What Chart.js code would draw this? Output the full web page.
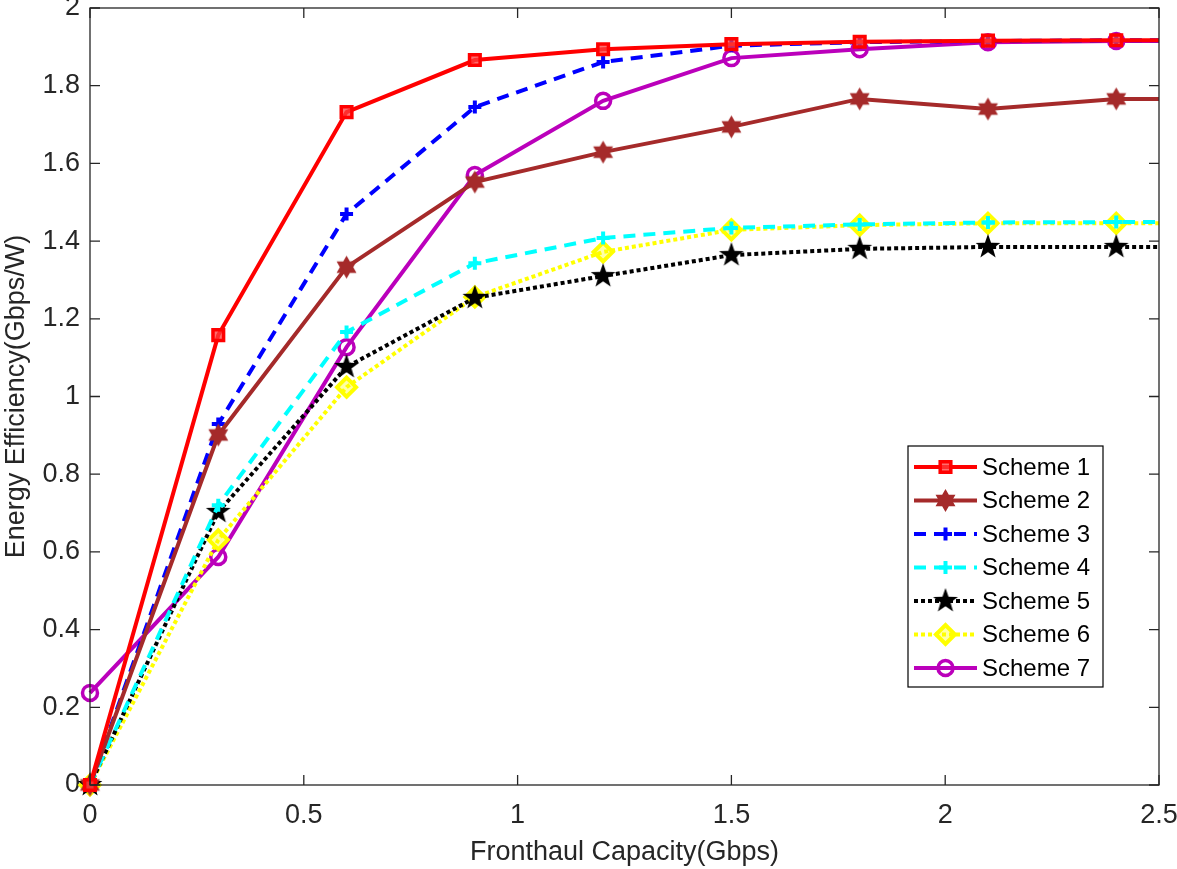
<!DOCTYPE html>
<html>
<head>
<meta charset="utf-8">
<script src="https://cdn.jsdelivr.net/npm/chart.js@4.4.1/dist/chart.umd.min.js"></script>
<style>
  body { margin: 0; background: #fff; }
  #wrap { width: 1177px; height: 869px; }
</style>
</head>
<body>
<div id="wrap"><canvas id="ee-chart"></canvas></div>
<script>
// fronthaul capacity (Gbps); the last point sits past the axis and is clipped
const capacity = [0, 0.3, 0.6, 0.9, 1.2, 1.5, 1.8, 2.1, 2.4, 2.7];

const scheme1 = [0, 1.158, 1.732, 1.866, 1.894, 1.907, 1.913, 1.916, 1.917, 1.917];
const scheme2 = [0, 0.901, 1.333, 1.552, 1.629, 1.694, 1.766, 1.740, 1.766, 1.766];
const scheme3 = [0, 0.929, 1.470, 1.745, 1.861, 1.903, 1.912, 1.915, 1.917, 1.917];
const scheme4 = [0, 0.720, 1.166, 1.343, 1.408, 1.434, 1.443, 1.448, 1.449, 1.449];
const scheme5 = [0, 0.703, 1.076, 1.254, 1.310, 1.364, 1.380, 1.385, 1.385, 1.385];
const scheme6 = [0, 0.631, 1.024, 1.256, 1.372, 1.429, 1.441, 1.446, 1.446, 1.446];
const scheme7 = [0.237, 0.587, 1.127, 1.570, 1.761, 1.871, 1.894, 1.912, 1.915, 1.915];

const schemeNames = ["Scheme 1", "Scheme 2", "Scheme 3", "Scheme 4", "Scheme 5", "Scheme 6", "Scheme 7"];

const xTicks = [0, 0.5, 1, 1.5, 2, 2.5];
const yTicks = [0, 0.2, 0.4, 0.6, 0.8, 1, 1.2, 1.4, 1.6, 1.8, 2];

const AXIS_COLOR = "#262626";
const FONT = "'Liberation Sans', Arial, Helvetica, sans-serif";

function starCanvas(points, outer, innerRatio, color) {
  const size = Math.ceil(outer * 2 + 4);
  const c = document.createElement("canvas");
  c.width = size;
  c.height = size;
  const g = c.getContext("2d");
  const cx = size / 2;
  const cy = size / 2;
  const inner = outer * innerRatio;
  g.beginPath();
  for (let i = 0; i < points * 2; i++) {
    const r = i % 2 === 0 ? outer : inner;
    const a = -Math.PI / 2 + (i * Math.PI) / points;
    const px = cx + r * Math.cos(a);
    const py = cy + r * Math.sin(a);
    if (i === 0) g.moveTo(px, py);
    else g.lineTo(px, py);
  }
  g.closePath();
  g.fillStyle = color;
  g.fill();
  return c;
}

const hexagram = starCanvas(6, 11.5, 0.58, "#a52a2a");
const pentagram = starCanvas(5, 13, 0.4, "#000000");

function toPoints(values) {
  return capacity.map((x, i) => ({ x, y: values[i] }));
}

const lineClip = { left: 16, top: 16, right: 0, bottom: 16 };

const datasets = [
  {
    label: schemeNames[0], data: toPoints(scheme1),
    borderColor: "#ff0000", borderWidth: 4,
    pointStyle: "rect", pointRadius: 7.5, pointBorderWidth: 3.5,
    pointBorderColor: "#ff0000", pointBackgroundColor: "rgba(255,60,60,0.75)",
  },
  {
    label: schemeNames[1], data: toPoints(scheme2),
    borderColor: "#a52a2a", borderWidth: 4,
    pointStyle: hexagram, pointRadius: 11.5,
  },
  {
    label: schemeNames[2], data: toPoints(scheme3),
    borderColor: "#0000ff", borderWidth: 4, borderDash: [12, 8],
    pointStyle: "cross", pointRadius: 6.5, pointBorderWidth: 4,
    pointBorderColor: "#0000ff",
  },
  {
    label: schemeNames[3], data: toPoints(scheme4),
    borderColor: "#00ffff", borderWidth: 4, borderDash: [12, 8],
    pointStyle: "cross", pointRadius: 6.5, pointBorderWidth: 4,
    pointBorderColor: "#00ffff",
  },
  {
    label: schemeNames[4], data: toPoints(scheme5),
    borderColor: "#000000", borderWidth: 4, borderDash: [4, 3],
    pointStyle: pentagram, pointRadius: 13,
  },
  {
    label: schemeNames[5], data: toPoints(scheme6),
    borderColor: "#ffff00", borderWidth: 4, borderDash: [4, 3],
    pointStyle: "rectRot", pointRadius: 9.5, pointBorderWidth: 4,
    pointBorderColor: "#ffff00", pointBackgroundColor: "rgba(255,255,0,0.35)",
  },
  {
    label: schemeNames[6], data: toPoints(scheme7),
    borderColor: "#bb00bb", borderWidth: 4,
    pointStyle: "circle", pointRadius: 7.5, pointBorderWidth: 3.5,
    pointBorderColor: "#bb00bb", pointBackgroundColor: "rgba(0,0,0,0)",
  },
].map((d) => ({
  ...d,
  fill: false,
  tension: 0,
  clip: lineClip,
  pointHoverRadius: d.pointRadius,
  pointBackgroundColor: d.pointBackgroundColor || d.borderColor,
  pointBorderColor: d.pointBorderColor || d.borderColor,
}));

// box around the plot and inward tick marks on all four sides
const boxAndTicks = {
  id: "boxAndTicks",
  afterDatasetsDraw(chart) {
    const { ctx, chartArea: a, scales } = chart;
    const len = 10;
    ctx.save();
    ctx.strokeStyle = AXIS_COLOR;
    ctx.lineWidth = 1.3;
    ctx.setLineDash([]);
    ctx.strokeRect(a.left, a.top, a.right - a.left, a.bottom - a.top);
    ctx.beginPath();
    xTicks.forEach((v) => {
      const px = scales.x.getPixelForValue(v);
      ctx.moveTo(px, a.bottom);
      ctx.lineTo(px, a.bottom - len);
      ctx.moveTo(px, a.top);
      ctx.lineTo(px, a.top + len);
    });
    yTicks.forEach((v) => {
      const py = scales.y.getPixelForValue(v);
      ctx.moveTo(a.left, py);
      ctx.lineTo(a.left + len, py);
      ctx.moveTo(a.right, py);
      ctx.lineTo(a.right - len, py);
    });
    ctx.stroke();
    ctx.restore();
  },
};

// MATLAB-style legend: line sample with the marker on it
const boxLegend = {
  id: "boxLegend",
  afterDraw(chart) {
    const { ctx } = chart;
    const box = { x: 908, y: 446, w: 195, h: 241 };
    const rowTop = 467;
    const rowStep = 33.5;
    ctx.save();
    ctx.fillStyle = "#ffffff";
    ctx.fillRect(box.x, box.y, box.w, box.h);
    ctx.strokeStyle = "#000000";
    ctx.lineWidth = 1.2;
    ctx.strokeRect(box.x, box.y, box.w, box.h);

    chart.data.datasets.forEach((ds, i) => {
      const y = rowTop + i * rowStep;
      ctx.save();
      ctx.strokeStyle = ds.borderColor;
      ctx.lineWidth = ds.borderWidth;
      ctx.setLineDash(ds.borderDash || []);
      ctx.beginPath();
      ctx.moveTo(914, y);
      ctx.lineTo(977, y);
      ctx.stroke();
      ctx.setLineDash([]);
      ctx.fillStyle = ds.pointBackgroundColor;
      ctx.strokeStyle = ds.pointBorderColor;
      ctx.lineWidth = ds.pointBorderWidth || 1;
      Chart.helpers.drawPoint(ctx, {
        pointStyle: ds.pointStyle,
        radius: ds.pointRadius,
        rotation: 0,
        borderWidth: ds.pointBorderWidth || 1,
      }, 945.5, y);
      ctx.restore();

      ctx.fillStyle = "#000000";
      ctx.font = "24px " + FONT;
      ctx.textBaseline = "middle";
      ctx.textAlign = "left";
      ctx.fillText(ds.label, 982, y + 1);
    });
    ctx.restore();
  },
};

const fmt = (v) => String(Math.round(v * 10) / 10);

new Chart(document.getElementById("ee-chart"), {
  type: "line",
  data: { datasets },
  options: {
    responsive: true,
    maintainAspectRatio: false,
    animation: false,
    layout: { autoPadding: false, padding: { top: 8, right: 18, left: 0, bottom: 0 } },
    plugins: {
      legend: { display: false },
      tooltip: { enabled: false },
    },
    scales: {
      x: {
        type: "linear",
        min: 0,
        max: 2.5,
        afterBuildTicks: (s) => { s.ticks = xTicks.map((v) => ({ value: v })); },
        afterFit: (s) => {
          s.height = 84;
          s.paddingLeft = 0;
          s.paddingRight = 0;
        },
        grid: { display: false, drawTicks: false },
        border: { display: false },
        ticks: {
          padding: 14,
          color: AXIS_COLOR,
          font: { family: FONT, size: 27 },
          callback: fmt,
          maxRotation: 0,
        },
        title: {
          display: true,
          text: "Fronthaul Capacity(Gbps)",
          color: AXIS_COLOR,
          font: { family: FONT, size: 27 },
          padding: { top: 0, bottom: 0 },
        },
      },
      y: {
        type: "linear",
        min: 0,
        max: 2,
        afterBuildTicks: (s) => { s.ticks = yTicks.map((v) => ({ value: v })); },
        afterFit: (s) => {
          s.width = 90;
          s.paddingTop = 0;
          s.paddingBottom = 0;
        },
        grid: { display: false, drawTicks: false },
        border: { display: false },
        ticks: {
          padding: 10,
          color: AXIS_COLOR,
          font: { family: FONT, size: 27 },
          callback: fmt,
        },
        title: {
          display: true,
          text: "Energy Efficiency(Gbps/W)",
          color: AXIS_COLOR,
          font: { family: FONT, size: 27 },
          padding: { top: 0, bottom: 0 },
        },
      },
    },
  },
  plugins: [boxAndTicks, boxLegend],
});
</script>
</body>
</html>
